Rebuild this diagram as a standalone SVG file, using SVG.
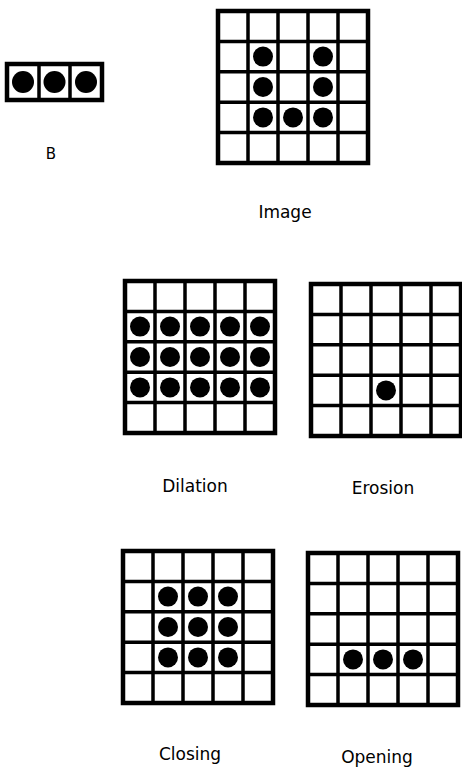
<svg xmlns="http://www.w3.org/2000/svg" width="462" height="767" viewBox="0 0 462 767">
<style>
.grid{fill:none;stroke:#000;stroke-width:3.5;stroke-linejoin:miter}
.border{fill:none;stroke:#000;stroke-width:4.5}
.dot{fill:#000}
.lbl{font-family:"DejaVu Sans","Liberation Sans",sans-serif;font-size:17px;fill:#000;text-anchor:middle}
</style>
<defs>
<g id="g5">
<rect class="border" x="0" y="0" width="150" height="152"/>
<path class="grid" d="M30 0V152M60 0V152M90 0V152M120 0V152M0 30.4H150M0 60.8H150M0 91.2H150M0 121.6H150"/>
</g>
<circle id="d" class="dot" r="10"/>
</defs>
<rect width="462" height="767" fill="#fff"/>
<g id="B">
<rect class="border" x="7" y="64" width="95" height="36"/>
<path class="grid" d="M39 64V100M70 64V100"/>
<circle class="dot" cx="23" cy="82" r="11"/>
<circle class="dot" cx="54.5" cy="82" r="11"/>
<circle class="dot" cx="86" cy="82" r="11"/>
<text class="lbl" x="51" y="159" style="font-size:15px">B</text>
</g>
<g id="Image">
<g transform="translate(218,11)">
<use href="#g5"/>
<use href="#d" x="45" y="45.6"/><use href="#d" x="105" y="45.6"/>
<use href="#d" x="45" y="76"/><use href="#d" x="105" y="76"/>
<use href="#d" x="45" y="106.4"/><use href="#d" x="75" y="106.4"/><use href="#d" x="105" y="106.4"/>
</g>
<text class="lbl" x="285" y="218">Image</text>
</g>
<g id="Dilation">
<g transform="translate(125,281)">
<use href="#g5"/>
<use href="#d" x="15" y="45.6"/><use href="#d" x="45" y="45.6"/><use href="#d" x="75" y="45.6"/><use href="#d" x="105" y="45.6"/><use href="#d" x="135" y="45.6"/>
<use href="#d" x="15" y="76"/><use href="#d" x="45" y="76"/><use href="#d" x="75" y="76"/><use href="#d" x="105" y="76"/><use href="#d" x="135" y="76"/>
<use href="#d" x="15" y="106.4"/><use href="#d" x="45" y="106.4"/><use href="#d" x="75" y="106.4"/><use href="#d" x="105" y="106.4"/><use href="#d" x="135" y="106.4"/>
</g>
<text class="lbl" x="195" y="492">Dilation</text>
</g>
<g id="Erosion">
<g transform="translate(311,284)">
<use href="#g5"/>
<use href="#d" x="75" y="106.4"/>
</g>
<text class="lbl" x="383" y="494">Erosion</text>
</g>
<g id="Closing">
<g transform="translate(123,551)">
<use href="#g5"/>
<use href="#d" x="45" y="45.6"/><use href="#d" x="75" y="45.6"/><use href="#d" x="105" y="45.6"/>
<use href="#d" x="45" y="76"/><use href="#d" x="75" y="76"/><use href="#d" x="105" y="76"/>
<use href="#d" x="45" y="106.4"/><use href="#d" x="75" y="106.4"/><use href="#d" x="105" y="106.4"/>
</g>
<text class="lbl" x="190" y="760">Closing</text>
</g>
<g id="Opening">
<g transform="translate(308,553)">
<use href="#g5"/>
<use href="#d" x="45" y="106.4"/><use href="#d" x="75" y="106.4"/><use href="#d" x="105" y="106.4"/>
</g>
<text class="lbl" x="377" y="763">Opening</text>
</g>
<g id="connectors"/>
</svg>
